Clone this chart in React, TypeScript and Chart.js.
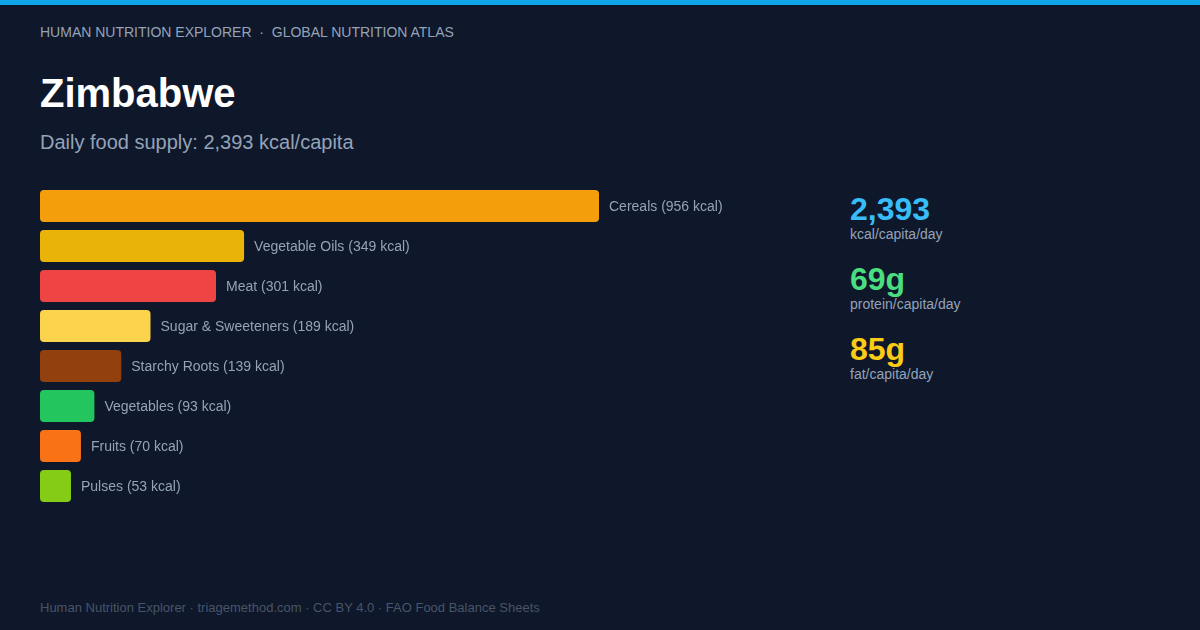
import React, { useEffect, useRef } from "react";
import { Chart, registerables } from "chart.js";

Chart.register(...registerables);

const categories = [
  "Cereals",
  "Vegetable Oils",
  "Meat",
  "Sugar & Sweeteners",
  "Starchy Roots",
  "Vegetables",
  "Fruits",
  "Pulses",
];
const kcalValues = [956, 349, 301, 189, 139, 93, 70, 53];
const barColors = [
  "#f59e0b",
  "#eab308",
  "#ef4444",
  "#fcd34d",
  "#92400e",
  "#22c55e",
  "#f97316",
  "#84cc16",
];
const statValues = ["2,393", "69g", "85g"];
const statLabels = ["kcal/capita/day", "protein/capita/day", "fat/capita/day"];
const statColors = ["#38bdf8", "#4ade80", "#facc15"];

const FONT = '"Liberation Sans", Arial, Helvetica, sans-serif';

export default function App() {
  const canvasRef = useRef<HTMLCanvasElement | null>(null);

  useEffect(() => {
    document.body.style.margin = "0";
    document.body.style.background = "#0f172a";
    const canvas = canvasRef.current;
    if (!canvas) return;
    const labelPlugin = {
      id: "barLabels",
      afterDatasetsDraw(chart: any) {
        const ctx = chart.ctx;
        const meta = chart.getDatasetMeta(0);
        ctx.save();
        ctx.font = `14px ${FONT}`;
        ctx.fillStyle = "#94a3b8";
        ctx.textBaseline = "middle";
        ctx.textAlign = "left";
        meta.data.forEach((bar: any, i: number) => {
          ctx.fillText(`${categories[i]} (${kcalValues[i]} kcal)`, bar.x + 10, bar.y + 1);
        });
        ctx.restore();
      },
    };
    const chart = new Chart(canvas, {
      type: "bar",
      data: {
        labels: categories,
        datasets: [
          {
            data: kcalValues,
            backgroundColor: barColors,
            borderWidth: 0,
            borderRadius: 4,
            borderSkipped: false,
            barPercentage: 0.8,
            categoryPercentage: 1,
          },
        ],
      },
      options: {
        indexAxis: "y",
        animation: false,
        responsive: false,
        maintainAspectRatio: false,
        layout: { padding: { left: 0, right: 201, top: 0, bottom: 0 } },
        plugins: { legend: { display: false }, tooltip: { enabled: false } },
        scales: {
          x: { display: false, min: 0, max: 956 },
          y: { display: false },
        },
      },
      plugins: [labelPlugin],
    });
    return () => chart.destroy();
  }, []);

  const abs = (top: number, left: number, size: number, color: string, weight = 400): React.CSSProperties => ({
    position: "absolute",
    top,
    left,
    fontSize: size,
    lineHeight: `${size}px`,
    color,
    fontWeight: weight,
    fontFamily: FONT,
    whiteSpace: "nowrap",
    margin: 0,
  });

  return (
    <div style={{ position: "relative", width: 1200, height: 630, background: "#0f172a", overflow: "hidden" }}>
      <div style={{ position: "absolute", top: 0, left: 0, width: 1200, height: 5, background: "#0ea5e9" }} />
      <div style={abs(25, 40, 14, "#94a3b8")}>
        HUMAN NUTRITION EXPLORER&nbsp;&nbsp;·&nbsp;&nbsp;GLOBAL NUTRITION ATLAS
      </div>
      <div style={abs(73, 40, 40, "#ffffff", 700)}>Zimbabwe</div>
      <div style={abs(132, 40, 20, "#94a3b8")}>Daily food supply: 2,393 kcal/capita</div>
      <canvas
        ref={canvasRef}
        width={760}
        height={320}
        style={{ position: "absolute", top: 186, left: 40, width: 760, height: 320 }}
      />
      {statValues.map((v, i) => (
        <React.Fragment key={v}>
          <div style={abs(193 + i * 70, 850, 32, statColors[i], 700)}>{v}</div>
          <div style={abs(227 + i * 70, 850, 14, "#94a3b8")}>{statLabels[i]}</div>
        </React.Fragment>
      ))}
      <div style={abs(601, 40, 13, "#475569")}>
        Human Nutrition Explorer · triagemethod.com · CC BY 4.0 · FAO Food Balance Sheets
      </div>
    </div>
  );
}
